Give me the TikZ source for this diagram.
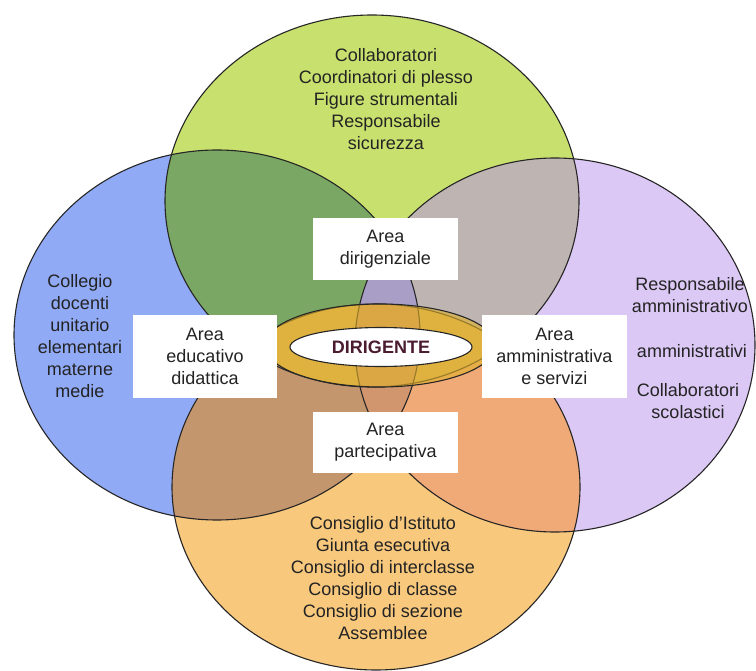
\documentclass[tikz,border=0pt]{standalone}
\usepackage{fontspec}
\setmainfont{Liberation Sans}
\usetikzlibrary{shapes.geometric}
\definecolor{cB}{RGB}{145,170,245}
\definecolor{cG}{RGB}{200,225,110}
\definecolor{cP}{RGB}{220,200,245}
\definecolor{cO}{RGB}{248,200,125}
\definecolor{cBG}{RGB}{122,168,100}
\definecolor{cGP}{RGB}{190,180,178}
\definecolor{cBO}{RGB}{195,150,110}
\definecolor{cPO}{RGB}{240,170,120}
\definecolor{cGO}{RGB}{222,180,100}
\definecolor{cBP}{RGB}{170,150,190}
\definecolor{cBGP}{RGB}{168,158,198}
\definecolor{cBOP}{RGB}{210,150,110}
\definecolor{cGold}{RGB}{225,178,40}
\definecolor{textc}{RGB}{35,35,35}
\definecolor{dirc}{RGB}{75,28,48}
\def\pB{(217,335) ellipse [x radius=203pt, y radius=185pt]}
\def\pP{(555,345) ellipse [x radius=200pt, y radius=187pt]}
\def\pG{(372,201) ellipse [x radius=207pt, y radius=186pt]}
\def\pO{(376,487) ellipse [x radius=204pt, y radius=183pt]}
\tikzset{
  txt/.style={align=center, font=\fontsize{18}{22}\selectfont, text=textc, inner sep=0pt},
  boxw/.style={fill=white, draw=none, align=center, font=\fontsize{18}{22}\selectfont, text=textc, inner sep=0pt},
  outl/.style={draw=black!85, line width=1.1pt}
}
\begin{document}
\begin{tikzpicture}[x=1pt,y=-1pt]
\useasboundingbox (0,0) rectangle (756,671);
\fill[white] (0,0) rectangle (756,671);
% base fills
\fill[cB] \pB;
\fill[cP] \pP;
\fill[cG] \pG;
\fill[cO] \pO;
% pairwise intersections
\begin{scope}\clip \pB; \fill[cBG] \pG; \end{scope}
\begin{scope}\clip \pG; \fill[cGP] \pP; \end{scope}
\begin{scope}\clip \pB; \fill[cBO] \pO; \end{scope}
\begin{scope}\clip \pP; \fill[cPO] \pO; \end{scope}
\begin{scope}\clip \pG; \fill[cGO] \pO; \end{scope}
\begin{scope}\clip \pB; \fill[cBP] \pP; \end{scope}
% triple intersections
\begin{scope}\clip \pB; \clip \pG; \fill[cBGP] \pP; \end{scope}
\begin{scope}\clip \pB; \clip \pO; \fill[cBOP] \pP; \end{scope}
% outlines
\draw[outl] \pB;
\draw[outl] \pP;
\draw[outl] \pG;
\draw[outl] \pO;
% gold ring
\fill[cGold, fill opacity=0.6, even odd rule] (380,345.5) ellipse [x radius=115pt, y radius=41.5pt] (381,347) ellipse [x radius=91pt, y radius=19.5pt];
\draw[outl] (380,345.5) ellipse [x radius=115pt, y radius=41.5pt];
\node[draw=black!85, line width=1.1pt, fill=white, ellipse, minimum width=182pt, minimum height=39pt, inner sep=0pt, font=\fontsize{18}{22}\selectfont\bfseries, text=dirc] (dirig) at (381,347) {DIRIGENTE};
% boxes
\node[boxw, minimum width=145pt, minimum height=62pt] (dir) at (385.5,249) {Area\\dirigenziale};
\node[boxw, minimum width=145pt, minimum height=61pt] (par) at (385.5,442.5) {Area\\partecipativa};
\node[boxw, minimum width=144pt, minimum height=83pt] (edu) at (205,356.5) {Area\\educativo\\didattica};
\node[boxw, minimum width=145pt, minimum height=83pt] (amm) at (554.5,356.5) {Area\\amministrativa\\e servizi};
% texts
\node[txt] (top) at (386,99) {Collaboratori\\Coordinatori di plesso\\Figure strumentali\\Responsabile\\sicurezza};
\node[txt] (left) at (80,336) {Collegio\\docenti\\unitario\\elementari\\materne\\medie};
\node[txt] (r1) at (690,295) {Responsabile\\amministrativo};
\node[txt] (r2) at (692,351) {amministrativi};
\node[txt] (r3) at (688,401) {Collaboratori\\scolastici};
\node[txt] (bot) at (383,578) {Consiglio d'Istituto\\Giunta esecutiva\\Consiglio di interclasse\\Consiglio di classe\\Consiglio di sezione\\Assemblee};
\end{tikzpicture}
\end{document}
